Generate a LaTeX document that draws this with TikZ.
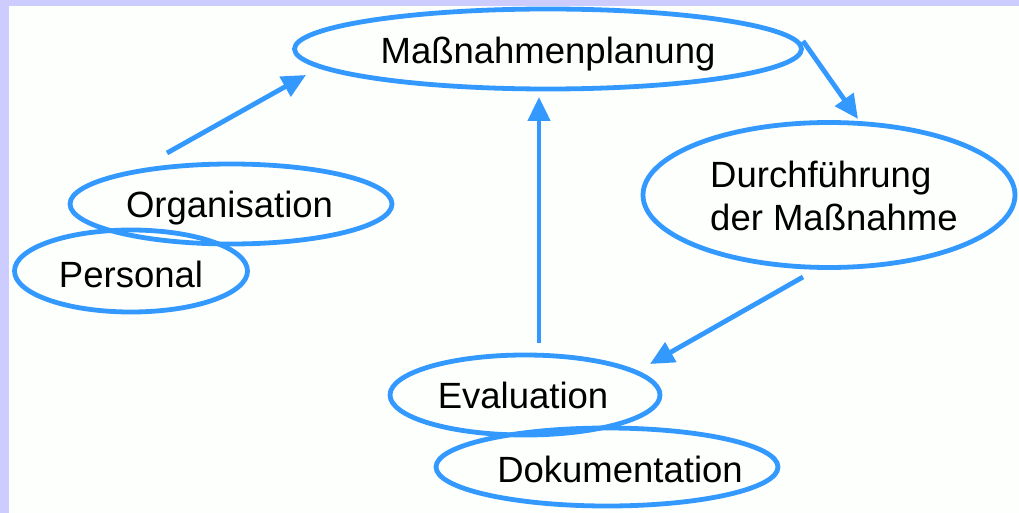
\documentclass[tikz,border=0pt]{standalone}
\usepackage{fontspec}
\setmainfont{Liberation Sans}
\usetikzlibrary{shapes.geometric,arrows.meta}
\definecolor{lineblue}{RGB}{51,153,255}
\definecolor{frame}{RGB}{204,204,255}
\definecolor{bg}{RGB}{252,255,252}
\tikzset{
  ell/.style={draw=lineblue, line width=4.8pt, ellipse, inner sep=0pt},
  txt/.style={font=\fontsize{36.5}{43}\selectfont, text=black, inner sep=0pt, anchor=base},
  arr/.style={draw=lineblue, line width=4.8pt, -{Triangle[length=24pt,width=22pt]}}
}
\begin{document}
\begin{tikzpicture}[x=1pt,y=-1pt]
\useasboundingbox (0,0) rectangle (1019,513);
\fill[frame] (0,0) rectangle (1019,513);
\fill[bg] (9,6) rectangle (1019,513);
% ellipses
\node[ell, minimum width=507pt, minimum height=80pt] (plan) at (548,49) {};
\node[ell, minimum width=322pt, minimum height=80pt] (orga) at (231,204) {};
\node[ell, minimum width=233pt, minimum height=82pt] (pers) at (131,271) {};
\node[ell, minimum width=372pt, minimum height=145pt] (durch) at (829,195) {};
\node[ell, minimum width=270pt, minimum height=80pt] (eval) at (525,395) {};
\node[ell, minimum width=342pt, minimum height=78pt] (doku) at (607,467) {};
% texts
\node[txt] (tplan) at (548,64) {Maßnahmenplanung};
\node[txt] (torga) at (229.5,217) {Organisation};
\node[txt] (tpers) at (131,287) {Personal};
\node[txt, anchor=base west] (tdurcha) at (710,187) {Durchführung};
\node[txt, anchor=base west] (tdurchb) at (710,230) {der Maßnahme};
\node[txt] (teval) at (523,408) {Evaluation};
\node[txt] (tdoku) at (620,482) {Dokumentation};
% connector ends
\coordinate (s1) at (167,153);
\coordinate (e1) at (306,75);
\coordinate (s2) at (803,41);
\coordinate (e2) at (858,119);
\coordinate (s3) at (803,277);
\coordinate (e3) at (650,364);
\coordinate (s4) at (539,343);
\coordinate (e4) at (539,97);
\draw[arr] (s1) -- (e1);
\draw[arr] (s2) -- (e2);
\draw[arr] (s3) -- (e3);
\draw[arr] (s4) -- (e4);
\end{tikzpicture}
\end{document}
